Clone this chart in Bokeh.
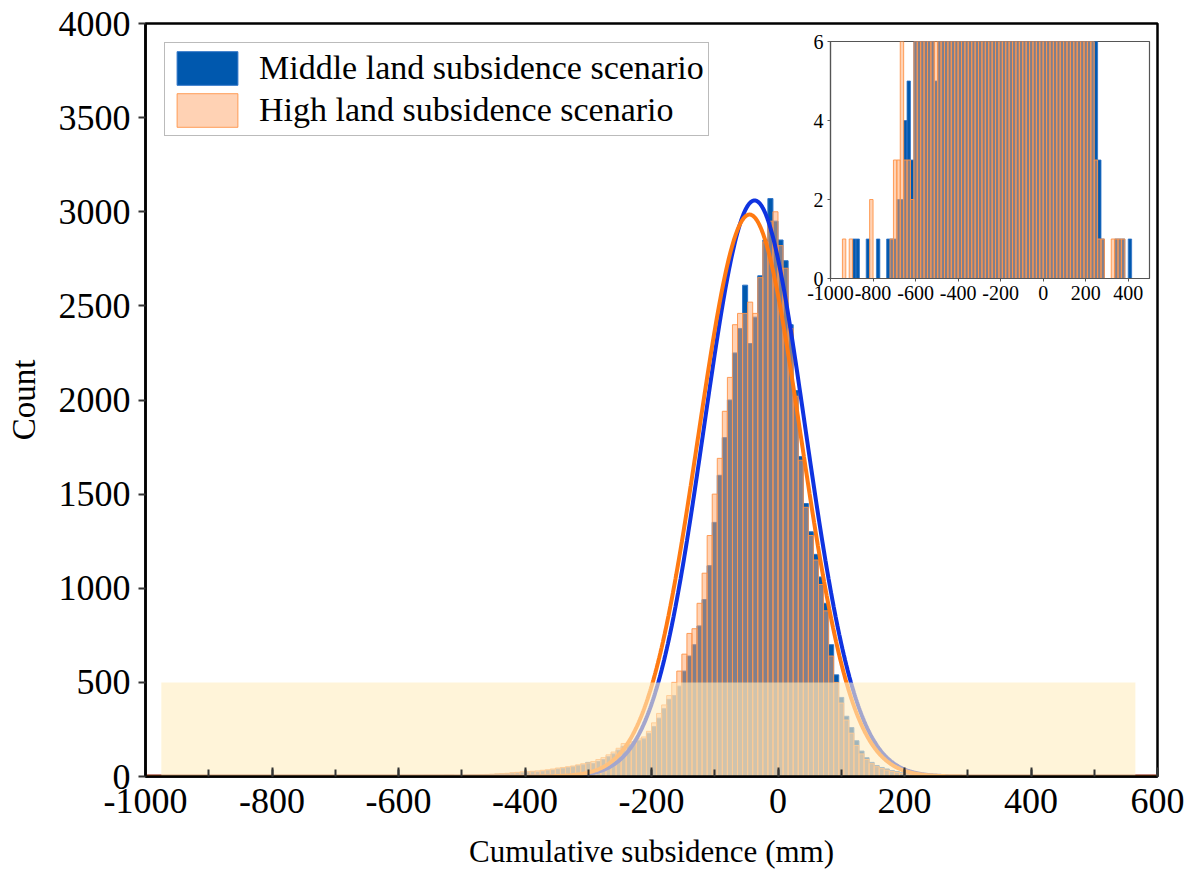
import numpy as np
from bokeh.plotting import figure
from bokeh.models import Range1d, FixedTicker, ColumnDataSource, Legend, LegendItem
from bokeh.layouts import column
from bokeh.embed import file_html
from bokeh.resources import INLINE

# ---------------- data ----------------
BIN_WIDTH = 8            # mm, main histogram bins
CORE_FIRST_CENTER = -604  # centre of first bin of the core arrays
INSET_BIN_WIDTH = 16     # inset histogram bins (two main bins)

blue_core = [
    3, 4, 4, 4, 5, 4, 5, 5, 5, 5, 6, 6, 3, 2, 7, 8, 8, 9, 10, 11, 13, 14, 16, 18, 19,
    20, 22, 25, 24, 28, 32, 35, 40, 44, 48, 52, 58, 62, 75, 70, 80, 90, 105, 120, 140,
    160, 170, 175, 190, 200, 230, 265, 310, 360, 410, 430, 480, 560, 640, 700, 800, 940,
    1120, 1350, 1600, 1800, 2000, 2250, 2380, 2610, 2300, 2440, 2660, 2850, 3070, 2950,
    2850, 2740, 2400, 2050, 1700, 1450, 1300, 1180, 1060, 920, 700, 540, 420, 320, 260,
    190, 135, 100, 75, 58, 48, 40, 32, 26, 20, 15, 11, 8, 5, 4, 4, 3,
]
orange_core = [
    4, 4, 5, 5, 5, 5, 6, 6, 6, 6, 7, 7, 4, 3, 7, 8, 9, 10, 11, 12, 14, 15, 17, 20, 22,
    25, 26, 28, 30, 33, 36, 40, 45, 48, 52, 56, 62, 68, 72, 80, 90, 100, 115, 130, 150,
    175, 180, 185, 200, 210, 240, 285, 335, 380, 430, 500, 560, 650, 760, 785, 920, 1080,
    1280, 1500, 1690, 1940, 2120, 2400, 2460, 2460, 2520, 2460, 2650, 2840, 2950, 3000,
    2820, 2700, 2380, 2020, 1680, 1430, 1280, 1150, 1020, 880, 640, 500, 390, 300, 230,
    165, 120, 90, 68, 52, 42, 34, 27, 21, 16, 12, 9, 6, 4, 3, 2, 1,
]
blue_tail_x = [-884, -876, -828, -772, -732, -716, -700, -684, -676, -668, -660, -652,
               -644, -636, -628, -620, -612, 260, 268, 276, 340, 364, 372, 412]
blue_tail_n = [1, 1, 1, 1, 1, 1, 1, 1, 1, 1, 1, 2, 2, 3, 2, 1, 2, 2, 1, 1, 1, 1, 1, 1]
orange_tail_x = [-932, -900, -812, -804, -708, -700, -692, -684, -676, -668, -660, -652,
                 -644, -636, -628, -620, -612, 260, 276, 332, 340, 356, 372]
orange_tail_n = [1, 1, 1, 1, 1, 2, 1, 2, 1, 4, 3, 2, 1, 2, 1, 1, 1, 1, 1, 1, 1, 1, 1]

# normal-fit parameters of the two histograms
blue_fit_mean, blue_fit_sd, blue_fit_peak = -37.0, 80.0, 3060.0
orange_fit_mean, orange_fit_sd, orange_fit_peak = -45.0, 81.0, 2985.0

# highlighted band (x extent and height)
band_x = [-975, 565]
band_top = 500

legend_labels = ["Middle land subsidence scenario", "High land subsidence scenario"]
x_ticks = [-1000, -800, -600, -400, -200, 0, 200, 400, 600]
x_minor_ticks = list(range(-1000, 601, 100))
y_ticks = [0, 500, 1000, 1500, 2000, 2500, 3000, 3500, 4000]
inset_x_ticks = [-1000, -800, -600, -400, -200, 0, 200, 400]
inset_y_ticks = [0, 2, 4, 6]

# ---------------- build tables ----------------
def series(core, tx, tn):
    d = {}
    for i, n in enumerate(core):
        d[CORE_FIRST_CENTER + BIN_WIDTH * i] = n
    for x, n in zip(tx, tn):
        d[x] = d.get(x, 0) + n
    xs = sorted(d)
    return xs, [d[x] for x in xs]

def rebin(xs, ns, w):
    d = {}
    for x, n in zip(xs, ns):
        c = (x // w) * w + w / 2
        d[c] = d.get(c, 0) + n
    cs = sorted(d)
    return cs, [d[c] for c in cs]

bx, bn = series(blue_core, blue_tail_x, blue_tail_n)
ox, on = series(orange_core, orange_tail_x, orange_tail_n)
blue_src = ColumnDataSource(dict(x=bx, top=bn))
orange_src = ColumnDataSource(dict(x=ox, top=on))
ibx, ibn = rebin(bx, bn, INSET_BIN_WIDTH)
iox, ion = rebin(ox, on, INSET_BIN_WIDTH)
iblue_src = ColumnDataSource(dict(x=ibx, top=ibn))
iorange_src = ColumnDataSource(dict(x=iox, top=ion))

xc = np.linspace(-1000, 600, 1601)
blue_curve = blue_fit_peak * np.exp(-0.5 * ((xc - blue_fit_mean) / blue_fit_sd) ** 2)
orange_curve = orange_fit_peak * np.exp(-0.5 * ((xc - orange_fit_mean) / orange_fit_sd) ** 2)

def hyphen_labels(ticks):
    return {t: str(t) for t in ticks}

# ---------------- styles ----------------
FONT = "Liberation Serif"
BLUE_BAR = "#0058AE"
BLUE_EDGE = "#2E74C8"
PEACH = "#FFA56A"
ORANGE_EDGE = "#FF9448"
BLUE_LINE = "#0F33E0"
ORANGE_LINE = "#FF7A12"

W, H = 1188, 884
BL, BR = 145, 31   # main plot left / right borders (shared by the column)
p = figure(width=W, height=H,
           x_range=Range1d(-1000, 600), y_range=Range1d(0, 4000),
           output_backend="svg", toolbar_location=None,
           min_border_left=BL, min_border_right=BR,
           min_border_top=23, min_border_bottom=108)
p.grid.visible = False
p.background_fill_color = "white"
p.border_fill_color = "white"
p.outline_line_color = "black"
p.outline_line_width = 2.5
p.outline_line_alpha = 1

rb = p.vbar(x="x", top="top", width=BIN_WIDTH, bottom=0, source=blue_src,
            fill_color=BLUE_BAR, line_color=BLUE_EDGE, line_width=1)
ro = p.vbar(x="x", top="top", width=BIN_WIDTH, bottom=0, source=orange_src,
            fill_color=PEACH, fill_alpha=0.5, line_color=ORANGE_EDGE,
            line_width=1, line_alpha=0.9)
p.line(xc, blue_curve, line_color=BLUE_LINE, line_width=4)
p.line(xc, orange_curve, line_color=ORANGE_LINE, line_width=4)
p.quad(left=[band_x[0]], right=[band_x[1]], bottom=[0], top=[band_top],
       fill_color="#FFEDC2", fill_alpha=0.62, line_color=None)

xa = p.xaxis[0]
xa.ticker = FixedTicker(ticks=x_ticks, minor_ticks=x_minor_ticks)
xa.major_label_overrides = hyphen_labels(x_ticks)
xa.major_tick_in = 9
xa.major_tick_out = 0
xa.minor_tick_in = 7
xa.minor_tick_out = 0
xa.axis_label = "Cumulative subsidence (mm)"
xa.major_label_standoff = 12
xa.axis_label_standoff = 18

ya = p.yaxis[0]
ya.ticker = FixedTicker(ticks=y_ticks)
ya.major_label_overrides = hyphen_labels(y_ticks)
ya.major_tick_in = 0
ya.major_tick_out = 7
ya.minor_tick_line_color = None
ya.axis_label = "Count"
ya.major_label_standoff = 8
ya.axis_label_standoff = 14

for ax in (xa, ya):
    ax.axis_line_width = 2.5
    ax.axis_line_color = "black"
    ax.major_tick_line_width = 2
    ax.minor_tick_line_width = 2
    ax.major_tick_line_color = "#333333"
    ax.major_label_text_font = FONT
    ax.major_label_text_font_size = "36px"
    ax.major_label_text_color = "black"
    ax.axis_label_text_font = FONT
    ax.axis_label_text_font_style = "normal"
    ax.axis_label_text_color = "black"
xa.minor_tick_line_color = "#333333"
xa.axis_label_text_font_size = "31px"
ya.axis_label_text_font_size = "33px"

legend = Legend(items=[LegendItem(label=legend_labels[0], renderers=[rb]),
                       LegendItem(label=legend_labels[1], renderers=[ro])],
                location="top_left")
legend.margin = 19
legend.padding = 4
legend.spacing = 0
legend.glyph_width = 76
legend.glyph_height = 42
legend.label_standoff = 14
legend.label_text_font = FONT
legend.label_text_font_size = "34px"
legend.label_text_color = "black"
legend.border_line_color = "#777777"
legend.border_line_width = 1.5
legend.background_fill_color = "white"
legend.background_fill_alpha = 1
p.add_layout(legend)

# ---------------- inset ----------------
# the column aligns plot frames horizontally, so the inset uses the same
# left/right borders as the main plot (kept transparent)
INSET_FRAME_W = 319
INSET_FRAME_LEFT, INSET_FRAME_TOP = 830, 41
IB_TOP, IB_BOTTOM = 14, 34
IW, IH = BL + INSET_FRAME_W + BR, IB_TOP + 237 + IB_BOTTOM
inset = figure(width=IW, height=IH,
               x_range=Range1d(-1000, 500), y_range=Range1d(0, 6),
               output_backend="svg", toolbar_location=None,
               min_border_left=BL, min_border_right=BR,
               min_border_top=IB_TOP, min_border_bottom=IB_BOTTOM,
               styles={"position": "absolute",
                       "left": f"{INSET_FRAME_LEFT - BL}px",
                       "top": f"{INSET_FRAME_TOP - IB_TOP}px",
                       "width": f"{IW}px", "height": f"{IH}px"})
inset.grid.visible = False
inset.background_fill_color = "white"
inset.border_fill_alpha = 0
inset.outline_line_color = "#555555"
inset.outline_line_width = 1.2
inset.vbar(x="x", top="top", width=INSET_BIN_WIDTH, bottom=0, source=iblue_src,
           fill_color=BLUE_BAR, line_color=BLUE_EDGE, line_width=0.8)
inset.vbar(x="x", top="top", width=INSET_BIN_WIDTH, bottom=0, source=iorange_src,
           fill_color=PEACH, fill_alpha=0.5, line_color=ORANGE_EDGE,
           line_width=1, line_alpha=0.9)
inset.xaxis.ticker = FixedTicker(ticks=inset_x_ticks)
inset.yaxis.ticker = FixedTicker(ticks=inset_y_ticks)
inset.xaxis.major_label_overrides = hyphen_labels(inset_x_ticks)
inset.yaxis.major_label_overrides = hyphen_labels(inset_y_ticks)
for ax in (inset.xaxis[0], inset.yaxis[0]):
    ax.axis_line_color = "#555555"
    ax.axis_line_width = 1.2
    ax.major_tick_in = 0
    ax.major_tick_out = 3
    ax.major_tick_line_color = "#555555"
    ax.minor_tick_line_color = None
    ax.major_label_text_font = FONT
    ax.major_label_text_font_size = "20px"
    ax.major_label_text_color = "black"
    ax.major_label_standoff = 4

layout = column(p, inset, styles={"position": "relative"})

open("out.html", "w").write(file_html(layout, INLINE))
